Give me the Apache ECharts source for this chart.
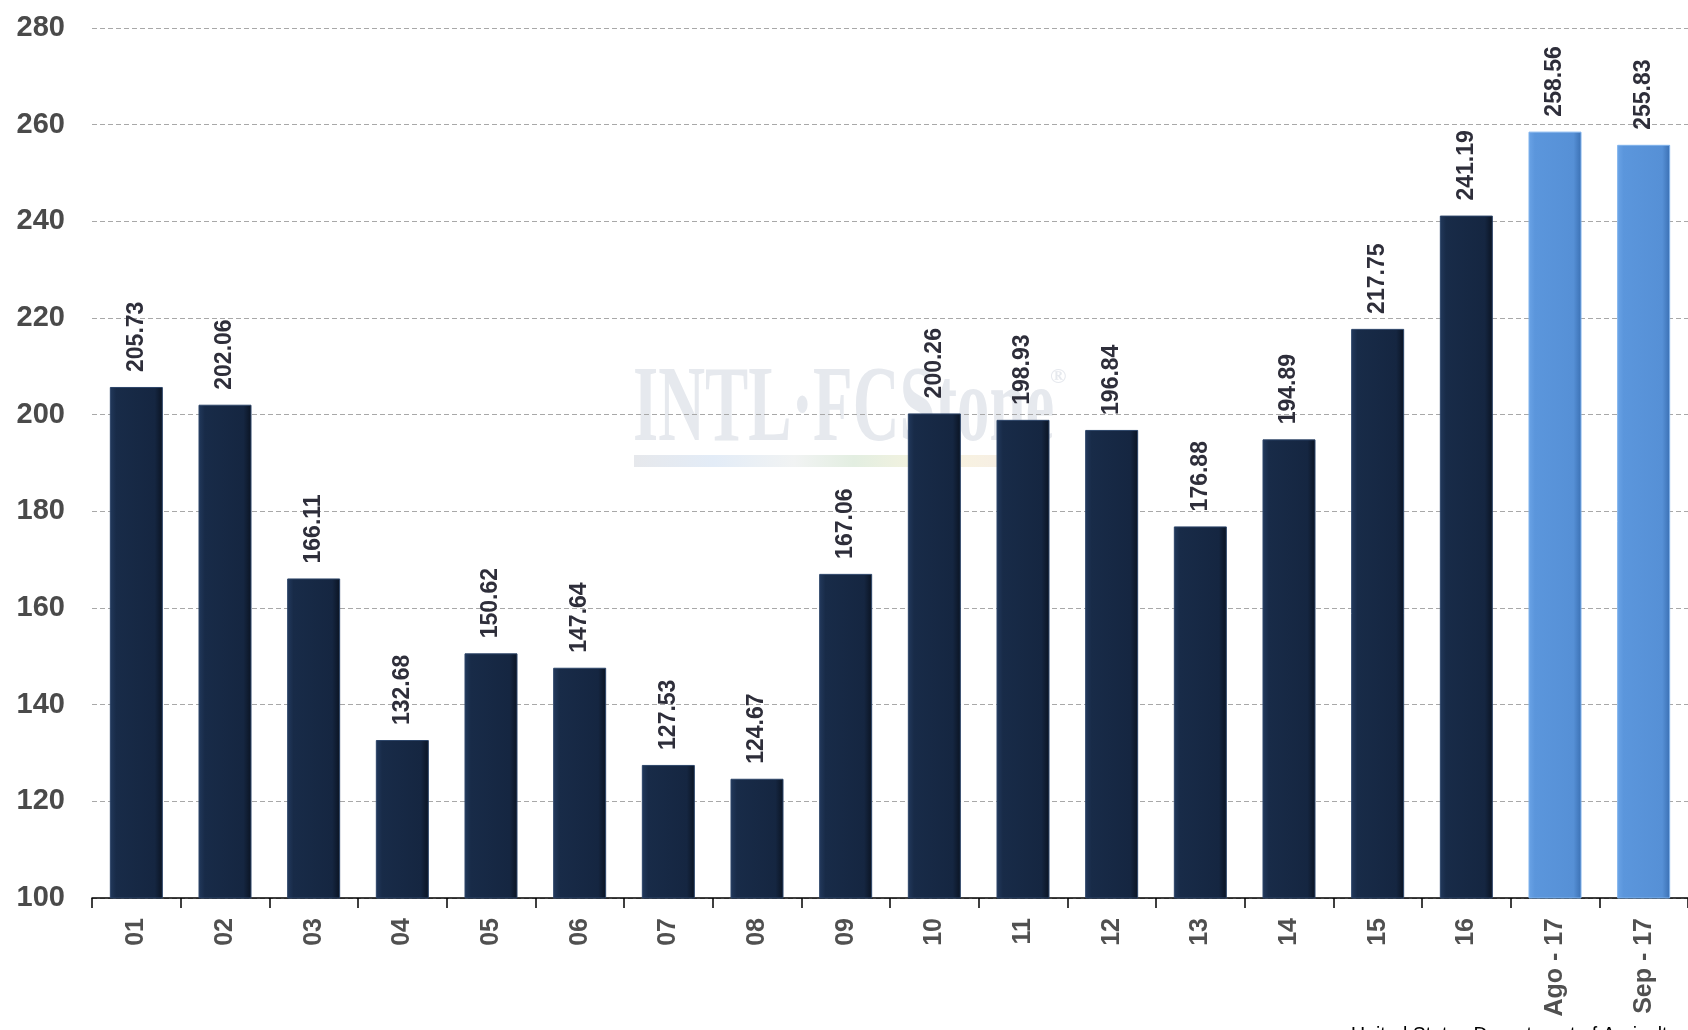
<!DOCTYPE html>
<html>
<head>
<meta charset="utf-8">
<style>
html,body{margin:0;padding:0;background:#fff;overflow:hidden;}
#chart{width:1688px;height:1030px;display:block;}
</style>
<script src="https://cdn.jsdelivr.net/npm/echarts@6/dist/echarts.min.js"></script>
</head>
<body>
<div id="chart"></div>
<script>
var categories = ['01','02','03','04','05','06','07','08','09','10','11','12','13','14','15','16','Ago - 17','Sep - 17'];
var values = [205.73,202.06,166.11,132.68,150.62,147.64,127.53,124.67,167.06,200.26,198.93,196.84,176.88,194.89,217.75,241.19,258.56,255.83];
var highlighted = ['Ago - 17','Sep - 17'];
var yTicks = {min:100, max:280, interval:20};
var sourceText = 'United States Department of Agriculture';
var watermark = 'INTL\u00B7FCStone';

var darkFill = new echarts.graphic.LinearGradient(0,0,1,0,[
  {offset:0,color:'#22395c'},{offset:0.12,color:'#182b48'},
  {offset:0.85,color:'#152641'},{offset:1,color:'#0a1322'}]);
var lightFill = new echarts.graphic.LinearGradient(0,0,1,0,[
  {offset:0,color:'#6aa3e6'},{offset:0.12,color:'#5b96dc'},
  {offset:0.85,color:'#5690d6'},{offset:1,color:'#3a6fb2'}]);

var data = values.map(function(v,i){
  var hi = highlighted.indexOf(categories[i]) >= 0;
  return {value:v, itemStyle:{color: hi ? lightFill : darkFill,
    borderColor: hi ? '#7fb2ec' : '#2c4468', borderWidth:1}};
});

var chart = echarts.init(document.getElementById('chart'), null, {width:1688, height:1030});
chart.setOption({
  animation:false,
  backgroundColor:'#ffffff',
  grid:{left:92, top:28, width:1602, height:870, containLabel:false},
  graphic:[
    {type:'text', z:-10, left:633, top:358, silent:true,
     scaleX:0.6,
     style:{text:watermark, font:'bold 108px "Liberation Serif"', fill:'#e6e9ee'}},
    {type:'text', z:-10, left:1050, top:366, silent:true,
     style:{text:'\u00AE', font:'bold 22px "Liberation Serif"', fill:'#e6e9ee'}},
    {type:'rect', z:-10, silent:true, shape:{x:634,y:455,width:400,height:12},
     style:{fill:new echarts.graphic.LinearGradient(0,0,1,0,[
       {offset:0,color:'#e6e8ec'},{offset:0.2,color:'#e3ecf7'},{offset:0.4,color:'#f1f3f3'},
       {offset:0.55,color:'#e3eee1'},{offset:0.75,color:'#f8f4df'},{offset:1,color:'#f6ece6'}])}},
    {type:'text', left:1351, top:1026, silent:true,
     style:{text:sourceText, font:'19.5px "Liberation Sans"', fill:'#000'}}
  ],
  xAxis:{
    type:'category', data:categories,
    axisLine:{show:true, lineStyle:{color:'#000', width:1.5}},
    axisTick:{show:true, length:10, lineStyle:{color:'#000', width:1.5}},
    axisLabel:{rotate:90, margin:20, color:'#505050', fontSize:25, fontWeight:'bold',
      fontFamily:'"Liberation Sans", Arial, sans-serif'}
  },
  yAxis:{
    type:'value', min:yTicks.min, max:yTicks.max, interval:yTicks.interval,
    axisLine:{show:false}, axisTick:{show:false},
    axisLabel:{margin:27, color:'#4a4a4a', fontSize:29, fontWeight:'bold',
      fontFamily:'"Liberation Sans", Arial, sans-serif'},
    splitLine:{lineStyle:{color:'#a8a8a8', type:[5,3], width:1}}
  },
  series:[{
    type:'bar', data:data, barWidth:53,
    label:{show:true, position:'top', rotate:90, distance:15, align:'left', verticalAlign:'middle',
      color:'#2e2e3a', fontSize:23, fontWeight:'bold',
      fontFamily:'"Liberation Sans", Arial, sans-serif',
      formatter:function(p){return p.value.toFixed(2);}}
  }]
});
</script>
</body>
</html>
